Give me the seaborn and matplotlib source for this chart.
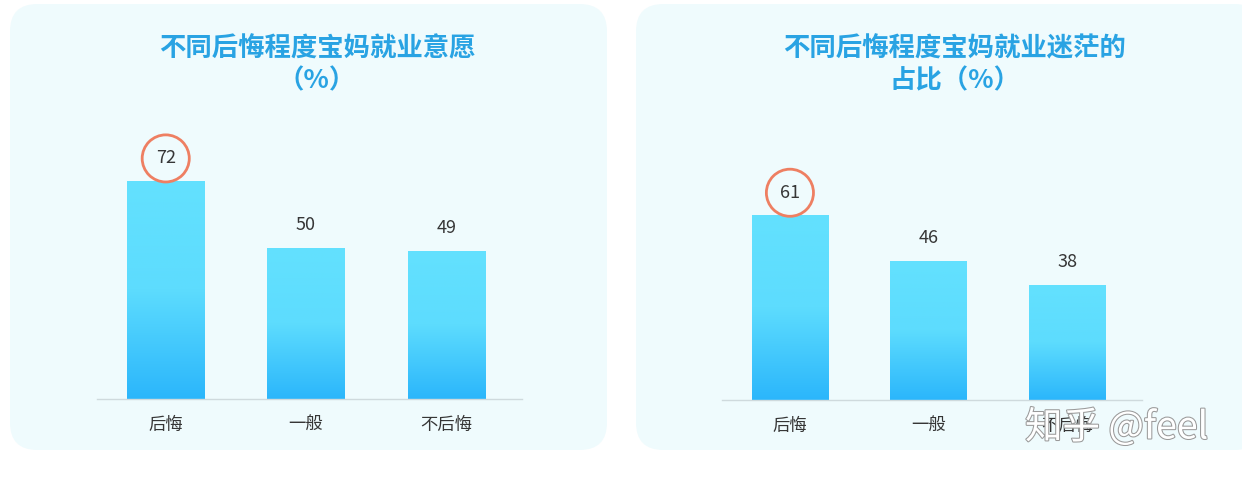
import matplotlib
matplotlib.use("Agg")
import matplotlib.pyplot as plt
import matplotlib.patheffects as pe
from matplotlib.patches import FancyBboxPatch
from matplotlib.colors import LinearSegmentedColormap
import seaborn as sns
import numpy as np
import pandas as pd

# data
categories = ["后悔", "一般", "不后悔"]
willing = [72, 50, 49]
confused = [61, 46, 38]
titles = ["不同后悔程度宝妈就业意愿\n（%）", "不同后悔程度宝妈就业迷茫的\n占比（%）"]

sns.set_style("white")
plt.rcParams["font.family"] = ["Noto Sans CJK SC", "DejaVu Sans"]

W, H = 1242, 479
fig = plt.figure(figsize=(W / 100, H / 100), dpi=100)
fig.patch.set_facecolor("white")

# panel backgrounds
panel_color = "#effbfd"
for x0, x1 in [(10, 607), (636, 1262)]:
    fig.patches.append(FancyBboxPatch(
        (x0 / W, (H - 450) / H), (x1 - x0) / W, 446 / H,
        boxstyle="round,pad=0,rounding_size=0.022", transform=fig.transFigure,
        facecolor=panel_color, edgecolor="none", zorder=-5, mutation_aspect=W / H))

grad_cmap = LinearSegmentedColormap.from_list("bar", ["#2bb6fb", "#5ddcfe", "#63e1fe"])
title_color = "#29a3e3"
text_color = "#363636"

px_per_unit = 3.03
specs = [
    dict(values=willing, left=97, right=522, base=399, title=titles[0], tx=317),
    dict(values=confused, left=722, right=1142, base=400, title=titles[1], tx=955),
]

for sp in specs:
    ymax = 80
    height_px = ymax * px_per_unit
    ax = fig.add_axes([sp["left"] / W, (H - sp["base"]) / H,
                       (sp["right"] - sp["left"]) / W, height_px / H])
    ax.set_facecolor("none")
    ax.set_zorder(2)
    df = pd.DataFrame({"cat": categories, "val": sp["values"]})
    sns.barplot(data=df, x="cat", y="val", ax=ax, width=0.55,
                color="#45cffd", saturation=1, edgecolor="none")
    ax.set_xlim(-0.49, 2.54)
    ax.set_ylim(0, ymax)

    # gradient fill for each bar
    grad = np.linspace(0, 1, 256).reshape(-1, 1)
    for patch in list(ax.patches):
        x, y = patch.get_x(), patch.get_y()
        w, h = patch.get_width(), patch.get_height()
        im = ax.imshow(grad, extent=[x, x + w, y, y + h], origin="lower",
                       aspect="auto", cmap=grad_cmap, zorder=2)
        im.set_clip_path(patch)
        patch.set_facecolor("none")
    ax.set_xlim(-0.49, 2.54)
    ax.set_ylim(0, ymax)

    # value labels
    for i, v in enumerate(sp["values"]):
        ax.text(i, v + 7.4, str(v), ha="center", va="center", fontweight="medium",
                fontsize=13, color=text_color, clip_on=False, zorder=5)
    # highlight circle on the first bar
    ax.scatter([0], [sp["values"][0] + 7.4], s=1150, facecolors="none",
               edgecolors="#ee7f62", linewidths=2, clip_on=False, zorder=6)

    sns.despine(ax=ax, left=True, top=True, right=True)
    ax.spines["bottom"].set_color("#cfdadd")
    ax.spines["bottom"].set_linewidth(1)
    ax.set_yticks([])
    ax.set_xlabel("")
    ax.set_ylabel("")
    ax.tick_params(axis="x", length=0, pad=12, labelsize=12.5, labelcolor=text_color)

    fig.text(sp["tx"] / W, 1 - 35 / H, sp["title"], ha="center", va="top",
             fontsize=19, color=title_color, fontweight="bold", linespacing=1.25)

# watermark
fig.text(1025 / W, 1 - 428 / H, "知乎 @feel", ha="left", va="center",
         fontsize=27, color="white", zorder=10,
         path_effects=[pe.withStroke(linewidth=1.5, foreground="#9a9a9a")])

fig.savefig("out.png", dpi=100, facecolor="white")
